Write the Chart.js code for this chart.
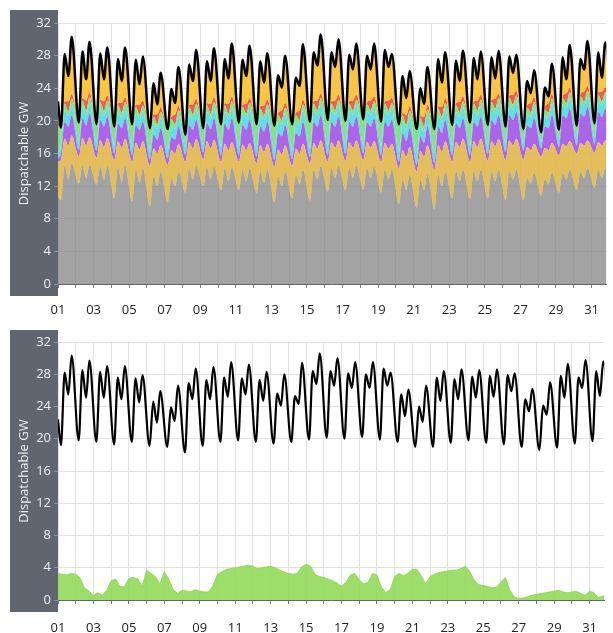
<!DOCTYPE html>
<html>
<head>
<meta charset="utf-8">
<script src="https://cdn.jsdelivr.net/npm/chart.js@4"></script>
<style>
  body { margin: 0; background: #fff; overflow: hidden; }
  canvas { position: absolute; left: 0; }
  #topChart { top: 0; }
  #bottomChart { top: 320px; }
</style>
</head>
<body>
<canvas id="topChart" width="613" height="320"></canvas>
<canvas id="bottomChart" width="613" height="313"></canvas>
<script>
// Dispatchable generation - two panels, one month of data
// =====================================================

// Day labels on the x axis (only odd days are printed)
const dayLabels = ['01','02','03','04','05','06','07','08','09','10','11','12','13','14','15','16',
  '17','18','19','20','21','22','23','24','25','26','27','28','29','30','31'];

// Samples per day: night trough, morning peak, midday dip, evening peak (hours)
const sampleHours = [4, 9, 14, 18.5];
// Bottom green series sampled every 6 hours
const greenHours = [0, 6, 12, 18];

// Each array: day 1 00:00, then 4 values per day, then day 32 04:00
const demand = [22.4,
  19.2, 28.2, 25.5, 30.3,   19.8, 28.5, 25.1, 29.7,   19.6, 28.3, 25.1, 29.0,   19.3, 27.6, 24.9, 29.0,
  19.6, 27.5, 24.5, 27.9,   19.1, 24.6, 22.0, 25.9,   19.0, 23.9, 22.2, 26.6,   18.3, 26.9, 24.9, 28.7,
  19.1, 27.3, 24.9, 28.9,   19.6, 27.6, 25.2, 29.5,   19.8, 27.5, 25.5, 29.2,   19.6, 27.3, 24.7, 28.3,
  19.4, 25.6, 24.1, 28.0,   19.6, 25.3, 24.3, 29.4,   19.9, 28.4, 26.8, 30.6,   20.1, 28.4, 26.6, 30.0,
  20.0, 28.1, 26.3, 29.5,   20.2, 28.0, 26.3, 29.5,   19.9, 28.7, 26.6, 28.2,   19.6, 25.5, 22.8, 26.1,
  19.0, 24.0, 22.1, 26.6,   19.0, 27.6, 24.7, 28.4,   19.5, 27.4, 24.9, 28.6,   19.8, 27.7, 25.1, 28.5,
  19.5, 27.8, 25.2, 28.6,   19.3, 27.9, 25.9, 28.1,   19.0, 24.9, 23.4, 26.2,   18.6, 24.1, 23.0, 27.0,
  18.9, 27.8, 25.1, 29.3,   19.4, 27.6, 26.3, 29.8,   19.7, 28.4, 25.3, 29.6,
  19.6];

// Top edge of each stacked layer (GW)
const grayTop = [10.6,
  10.3, 14.6, 12.8, 14.8,   12.3, 14.5, 13.0, 14.6,   12.2, 14.4, 12.8, 14.5,   10.5, 14.3, 12.5, 14.5,
  10.1, 14.0, 12.4, 14.2,    9.5, 13.2, 12.0, 13.8,   10.0, 13.0, 12.0, 13.8,   11.2, 14.2, 12.8, 14.5,
  12.0, 14.3, 12.8, 14.4,   11.5, 14.2, 12.6, 14.3,   11.5, 14.0, 12.6, 14.2,   11.2, 13.8, 12.4, 14.0,
  10.0, 13.2, 12.0, 13.8,   10.5, 13.4, 12.2, 14.0,   10.2, 14.0, 12.8, 14.5,   11.3, 14.2, 13.0, 14.5,
  11.5, 14.2, 13.0, 14.5,   11.6, 14.2, 13.0, 14.4,   11.2, 14.0, 12.8, 14.0,    9.8, 12.8, 11.5, 13.4,
   9.3, 12.8, 11.5, 13.5,    9.2, 13.4, 12.0, 13.8,   10.5, 13.8, 12.6, 14.0,   10.4, 13.8, 12.6, 14.0,
  10.5, 13.8, 12.6, 14.0,   10.3, 13.8, 12.8, 14.0,   10.3, 13.0, 12.3, 13.6,   10.8, 12.8, 12.2, 13.6,
  11.2, 13.6, 12.8, 14.0,   11.5, 13.8, 13.0, 14.2,   11.8, 14.0, 13.0, 14.2,
  11.8];

const goldTop = [15.0,
  15.2, 17.8, 17.0, 18.2,   15.6, 17.9, 17.0, 18.0,   15.5, 17.7, 16.8, 17.9,   15.2, 17.5, 16.7, 17.8,
  15.0, 17.3, 16.5, 17.5,   14.5, 16.6, 16.0, 17.0,   14.6, 16.4, 16.0, 17.2,   15.0, 17.4, 16.6, 17.8,
  15.3, 17.5, 16.6, 17.7,   15.0, 17.2, 16.4, 17.4,   15.0, 17.1, 16.4, 17.3,   14.8, 17.0, 16.2, 17.2,
  14.4, 16.5, 15.9, 17.0,   14.5, 16.6, 16.0, 17.2,   14.8, 17.3, 16.6, 17.6,   15.0, 17.4, 16.7, 17.6,
  15.1, 17.4, 16.7, 17.6,   15.2, 17.4, 16.7, 17.5,   15.0, 17.3, 16.6, 17.2,   14.2, 16.4, 15.6, 16.8,
  13.8, 16.3, 15.6, 17.0,   14.0, 17.0, 16.2, 17.5,   15.0, 17.4, 16.8, 17.8,   15.0, 17.5, 16.8, 17.8,
  15.1, 17.5, 16.9, 17.8,   15.2, 17.6, 17.0, 17.8,   15.3, 16.8, 16.4, 17.2,   15.6, 16.7, 16.4, 17.3,
  15.8, 17.2, 16.9, 17.5,   16.0, 17.3, 17.0, 17.6,   16.1, 17.4, 17.0, 17.6,
  16.0];

const purpleTop = [15.4,
  16.0, 19.9, 19.3, 20.7,   16.4, 20.3, 19.4, 20.9,   16.3, 20.1, 19.3, 20.5,   16.0, 19.7, 19.1, 20.3,
  15.8, 19.5, 18.9, 19.9,   15.3, 18.3, 17.7, 19.1,   15.4, 18.0, 17.7, 19.3,   15.8, 19.5, 18.9, 20.1,
  16.1, 19.7, 19.0, 20.3,   15.8, 19.7, 18.9, 20.3,   15.8, 19.5, 18.9, 20.1,   15.6, 19.3, 18.7, 19.9,
  15.2, 18.5, 18.1, 19.5,   15.3, 18.5, 18.1, 19.9,   15.6, 19.9, 19.3, 20.7,   15.8, 19.9, 19.3, 20.5,
  15.9, 19.9, 19.3, 20.5,   16.0, 19.8, 19.3, 20.3,   15.8, 19.9, 19.3, 20.1,   15.0, 18.5, 17.5, 19.1,
  14.6, 18.1, 17.3, 19.3,   14.8, 19.3, 18.5, 20.1,   15.8, 19.7, 19.1, 20.3,   15.8, 19.9, 19.3, 20.5,
  15.9, 20.1, 19.5, 20.7,   16.2, 20.7, 20.1, 21.1,   16.4, 19.5, 19.1, 20.3,   16.6, 19.3, 19.1, 20.7,
  16.8, 20.7, 20.3, 21.5,   17.0, 20.9, 20.5, 21.7,   17.1, 21.1, 20.5, 21.5,
  17.0];

const cyanTop = [15.8,
  17.0, 21.3, 20.6, 22.0,   17.4, 21.7, 20.7, 22.2,   17.3, 21.5, 20.6, 21.8,   17.0, 21.1, 20.4, 21.6,
  16.8, 20.9, 20.2, 21.2,   16.3, 19.7, 19.0, 20.4,   16.4, 19.4, 19.0, 20.6,   16.8, 20.9, 20.2, 21.4,
  17.1, 21.1, 20.3, 21.6,   16.9, 21.1, 20.3, 21.7,   16.9, 20.9, 20.3, 21.5,   16.7, 20.7, 20.1, 21.3,
  16.3, 19.9, 19.5, 20.9,   16.4, 19.9, 19.5, 21.3,   16.7, 21.3, 20.7, 22.1,   16.9, 21.3, 20.7, 21.9,
  17.0, 21.3, 20.7, 21.9,   17.1, 21.2, 20.7, 21.7,   16.9, 21.3, 20.7, 21.5,   16.2, 19.9, 18.9, 20.5,
  15.8, 19.5, 18.7, 20.7,   16.0, 20.7, 19.9, 21.5,   17.0, 21.1, 20.5, 21.7,   17.0, 21.3, 20.7, 21.9,
  17.0, 21.5, 20.9, 22.1,   17.3, 22.0, 21.4, 22.4,   17.4, 20.8, 20.4, 21.6,   17.5, 20.6, 20.4, 22.0,
  17.7, 22.0, 21.6, 22.8,   17.9, 22.2, 21.8, 23.0,   18.0, 22.4, 21.8, 22.8,
  17.9];

const greenTop = [19.4,
  19.2, 22.1, 21.2, 22.7,   19.8, 22.5, 21.3, 22.9,   19.6, 22.3, 21.2, 22.5,   19.3, 21.9, 21.0, 22.3,
  19.6, 21.7, 20.8, 21.9,   19.1, 20.5, 19.6, 21.1,   19.0, 20.2, 19.6, 21.3,   18.3, 21.7, 20.8, 22.1,
  19.1, 21.9, 20.9, 22.3,   19.6, 21.9, 20.9, 22.4,   19.8, 21.7, 20.9, 22.2,   19.6, 21.5, 20.7, 22.0,
  19.4, 20.7, 20.1, 21.6,   19.6, 20.7, 20.1, 22.0,   19.9, 22.1, 21.3, 22.8,   20.1, 22.1, 21.3, 22.6,
  20.0, 22.1, 21.3, 22.6,   20.2, 22.0, 21.3, 22.4,   19.9, 22.1, 21.3, 22.2,   19.6, 20.7, 19.5, 21.2,
  19.0, 20.3, 19.3, 21.4,   19.0, 21.5, 20.5, 22.2,   19.5, 21.9, 21.1, 22.4,   19.8, 22.1, 21.3, 22.6,
  19.5, 22.3, 21.5, 22.8,   19.3, 22.8, 22.0, 23.1,   19.0, 21.6, 21.0, 22.3,   18.6, 21.4, 21.0, 22.7,
  18.9, 22.8, 22.2, 23.5,   19.4, 23.0, 22.4, 23.7,   19.7, 23.2, 22.4, 23.5,
  19.6];

const redTop = [20.0,
  19.2, 22.4, 22.4, 23.3,   19.8, 22.8, 22.5, 23.5,   19.6, 22.6, 22.4, 23.1,   19.3, 22.2, 22.2, 22.9,
  19.6, 22.0, 22.0, 22.5,   19.1, 20.8, 20.8, 21.7,   19.0, 20.5, 20.8, 21.9,   18.3, 22.0, 22.0, 22.7,
  19.1, 22.2, 22.1, 22.9,   19.6, 22.2, 22.1, 23.0,   19.8, 22.0, 22.1, 22.8,   19.6, 21.8, 21.9, 22.6,
  19.4, 21.0, 21.3, 22.2,   19.6, 21.0, 21.3, 22.6,   19.9, 22.4, 22.5, 23.4,   20.1, 22.4, 22.5, 23.2,
  20.0, 22.4, 22.5, 23.2,   20.2, 22.3, 22.5, 23.0,   19.9, 22.4, 22.5, 22.8,   19.6, 21.0, 20.7, 21.8,
  19.0, 20.6, 20.5, 22.0,   19.0, 21.8, 21.7, 22.8,   19.5, 22.2, 22.3, 23.0,   19.8, 22.4, 22.5, 23.2,
  19.5, 22.6, 22.7, 23.4,   19.3, 23.1, 23.2, 23.7,   19.0, 21.9, 22.2, 22.9,   18.6, 21.7, 22.2, 23.3,
  18.9, 23.1, 23.4, 24.1,   19.4, 23.3, 23.6, 24.3,   19.7, 23.5, 23.6, 24.1,
  19.6];

// Bottom panel green area, 4 values per day (00, 06, 12, 18h) then day 32 00:00
const greenArea = [
  3.3, 3.2, 3.1, 3.3,   3.2, 2.7, 1.5, 1.1,   0.6, 0.9, 0.6, 1.2,   2.4, 2.6, 1.7, 1.6,
  2.7, 2.8, 2.6, 1.7,   3.7, 3.3, 2.9, 2.0,   3.5, 2.6, 1.3, 0.8,   1.2, 1.1, 1.0, 1.3,
  1.1, 1.0, 1.0, 1.8,   3.2, 3.5, 3.8, 3.9,   4.0, 4.1, 4.2, 4.3,   4.2, 3.9, 4.0, 4.1,
  4.2, 4.0, 3.7, 3.5,   3.3, 3.2, 3.3, 4.1,   4.4, 4.2, 3.2, 2.9,   2.8, 2.6, 2.4, 2.1,
  1.7, 2.2, 3.1, 3.3,   2.5, 2.0, 2.2, 3.3,   3.1, 1.6, 0.9, 1.3,   2.9, 3.3, 3.0, 3.3,
  3.8, 3.8, 3.0, 2.0,   2.9, 3.2, 3.4, 3.5,   3.6, 3.7, 3.7, 3.9,   4.2, 3.5, 2.4, 1.9,
  1.8, 1.7, 1.5, 1.6,   2.2, 2.8, 1.2, 0.4,   0.2, 0.25, 0.4, 0.6,  0.7, 0.8, 0.9, 1.0,
  1.1, 1.2, 1.0, 0.9,   1.0, 1.1, 0.8, 0.6,   1.1, 0.9, 0.3, 0.5,
  0.4];

// Layer colours, bottom to top
const layerColors = {
  gray:   'rgba(128, 128, 128, 0.72)',
  gold:   'rgba(224, 180, 70, 0.88)',
  purple: 'rgba(160, 80, 230, 0.88)',
  cyan:   'rgba(80, 215, 230, 0.88)',
  green:  'rgba(120, 222, 115, 0.88)',
  red:    'rgba(240, 75, 55, 0.9)',
  orange: 'rgba(250, 190, 50, 0.9)'
};
const bottomGreen = 'rgba(140, 215, 80, 0.85)';
const boxColor = '#5f6670';
const fontFamily = "'Open Sans', 'Noto Sans', sans-serif";

// Sample times (in days from the 1st, 00:00)
const layerTimes = [0];
for (let d = 0; d < 31; d++) sampleHours.forEach(h => layerTimes.push(d + h / 24));
layerTimes.push(31 + 4 / 24);

const greenTimes = [];
for (let d = 0; d < 31; d++) greenHours.forEach(h => greenTimes.push(d + h / 24));
greenTimes.push(31);

const toPoints = (times, values) => values.map((v, i) => ({ x: times[i], y: v }));

// Dark box behind the y axis
const axisBoxPlugin = {
  id: 'axisBox',
  beforeDraw(chart) {
    const { ctx, chartArea } = chart;
    ctx.save();
    ctx.fillStyle = boxColor;
    ctx.fillRect(10, 10, chartArea.left - 10, chartArea.bottom + 12 - 10);
    ctx.restore();
  }
};

// Dotted minor grid lines at 2, 6, 10 ...
const minorGridPlugin = {
  id: 'minorGrid',
  beforeDatasetsDraw(chart) {
    const { ctx, chartArea, scales: { y } } = chart;
    ctx.save();
    ctx.strokeStyle = '#d2d2d2';
    ctx.lineWidth = 1;
    ctx.setLineDash([2, 2]);
    y.ticks.forEach(t => {
      if (t.value % 4 === 0) return;
      const py = Math.round(y.getPixelForValue(t.value)) + 0.5;
      ctx.beginPath();
      ctx.moveTo(chartArea.left, py);
      ctx.lineTo(chartArea.right, py);
      ctx.stroke();
    });
    ctx.restore();
  }
};

function buildScales(xHeight, labelPad) {
  return {
    x: {
      type: 'linear',
      min: 0,
      max: 30.83,
      afterBuildTicks: axis => {
        axis.ticks = dayLabels.map((_, i) => ({ value: i }));
      },
      afterFit: axis => { axis.height = xHeight; },
      grid: {
        color: '#e2e2e2',
        tickColor: '#777',
        tickLength: 4
      },
      border: { color: '#666', width: 1 },
      ticks: {
        autoSkip: false,
        maxRotation: 0,
        padding: labelPad,
        color: '#222',
        font: { family: fontFamily, size: 13 },
        callback: value => (value % 2 === 0 ? dayLabels[value] : '')
      }
    },
    y: {
      min: 0,
      max: 32,
      afterFit: axis => { axis.width = 48; },
      grid: {
        color: ctx => (ctx.tick && ctx.tick.value % 4 === 0 ? '#e2e2e2' : 'rgba(0,0,0,0)'),
        tickColor: '#8d939a',
        tickLength: 4
      },
      border: { display: false },
      title: {
        display: true,
        text: 'Dispatchable GW',
        color: '#eef0f2',
        font: { family: fontFamily, size: 13 },
        padding: { top: 6, bottom: 0 }
      },
      ticks: {
        stepSize: 2,
        padding: 3,
        color: '#eef0f2',
        font: { family: fontFamily, size: 13 },
        callback: value => (value % 4 === 0 ? value : '')
      }
    }
  };
}

function layer(values, color) {
  return {
    data: toPoints(layerTimes, values),
    backgroundColor: color,
    borderWidth: 0,
    pointRadius: 0,
    cubicInterpolationMode: 'monotone',
    fill: '-1',
    order: 0
  };
}

const commonPlugins = {
  legend: { display: false },
  tooltip: { enabled: false }
};

// Top panel: stacked dispatchable layers under the demand line
const grayLayer = layer(grayTop, layerColors.gray);
grayLayer.fill = 'origin';

new Chart(document.getElementById('topChart'), {
  type: 'line',
  data: {
    datasets: [
      grayLayer,
      layer(goldTop, layerColors.gold),
      layer(purpleTop, layerColors.purple),
      layer(cyanTop, layerColors.cyan),
      layer(greenTop, layerColors.green),
      layer(redTop, layerColors.red),
      {
        data: toPoints(layerTimes, demand),
        borderColor: '#000',
        backgroundColor: layerColors.orange,
        borderWidth: 2.5,
        pointRadius: 0,
        cubicInterpolationMode: 'monotone',
        fill: '-1',
        order: -1
      }
    ]
  },
  options: {
    responsive: false,
    animation: false,
    layout: { padding: { left: 10, top: 23, right: 0, bottom: 0 } },
    plugins: commonPlugins,
    scales: buildScales(36, 14)
  },
  plugins: [axisBoxPlugin, minorGridPlugin]
});

// Bottom panel: demand line and green area
new Chart(document.getElementById('bottomChart'), {
  type: 'line',
  data: {
    datasets: [
      {
        data: toPoints(greenTimes, greenArea),
        borderColor: bottomGreen,
        backgroundColor: bottomGreen,
        borderWidth: 1,
        pointRadius: 0,
        tension: 0,
        fill: 'origin',
        order: 1
      },
      {
        data: toPoints(layerTimes, demand),
        borderColor: '#000',
        borderWidth: 2.2,
        pointRadius: 0,
        cubicInterpolationMode: 'monotone',
        fill: false,
        order: -1
      }
    ]
  },
  options: {
    responsive: false,
    animation: false,
    layout: { padding: { left: 10, top: 22, right: 0, bottom: 0 } },
    plugins: commonPlugins,
    scales: buildScales(33, 16)
  },
  plugins: [axisBoxPlugin, minorGridPlugin]
});
</script>
</body>
</html>
